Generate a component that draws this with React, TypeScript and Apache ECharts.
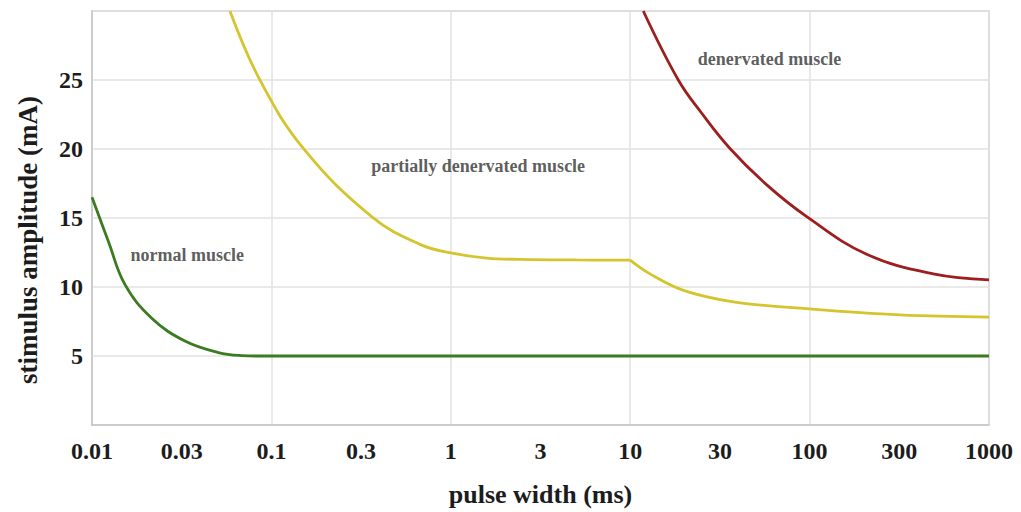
import React, { useEffect, useRef } from "react";
import * as echarts from "echarts";

// X tick labels (pulse width, ms), evenly spaced in half-decade steps
const tickLabels = ["0.01", "0.03", "0.1", "0.3", "1", "3", "10", "30", "100", "300", "1000"];
const yTickLabels = [5, 10, 15, 20, 25];

// normal muscle
const normalPw = [0.01, 0.01233, 0.01528, 0.02153, 0.03297, 0.0506, 0.0682, 0.0845, 0.3, 3, 30, 300, 1000];
const normalAmp = [16.5, 13.32, 10.17, 7.74, 6.08, 5.25, 5.03, 5.0, 5.0, 5.0, 5.0, 5.0, 5.0];

// partially denervated muscle (two parts, kink at 10 ms)
const partialPwA = [0.0587, 0.0863, 0.1507, 0.362, 0.673, 1.019, 1.585, 2.43, 5, 10];
const partialAmpA = [30, 25.0, 20.04, 15.1, 13.09, 12.45, 12.09, 12.0, 11.96, 11.95];
const partialPwB = [10, 12.9, 19.8, 37.6, 100, 319, 1000];
const partialAmpB = [11.95, 10.95, 9.76, 8.93, 8.41, 7.98, 7.82];

// denervated muscle
const denervPw = [11.83, 18.54, 25.05, 35.98, 57.7, 96.4, 208, 489, 1000];
const denervAmp = [30, 25.0, 22.59, 20.04, 17.4, 15.1, 12.37, 10.95, 10.52];

// annotations
const annoText = ["normal muscle", "partially denervated muscle", "denervated muscle"];
const annoPw = [0.034, 1.42, 59.7];
const annoAmp = [12.3, 18.8, 26.55];

const FONT = "Liberation Serif";
const GREEN = "#3b7b22";
const YELLOW = "#d4c52f";
const RED = "#9c1e1e";

const toXY = (pw: number[], amp: number[]) => pw.map((p, i) => [Math.log10(p), amp[i]]);

export default function App() {
  const ref = useRef<HTMLDivElement>(null);
  useEffect(() => {
    if (!ref.current) return;
    const chart = echarts.init(ref.current, undefined, { renderer: "svg" });
    const lineBase = (color: string) => ({
      type: "line" as const,
      smooth: 0.4,
      showSymbol: false,
      symbol: "none",
      xAxisIndex: 0,
      yAxisIndex: 0,
      lineStyle: { color, width: 2.8 },
      itemStyle: { color },
      silent: true,
      z: 3,
    });
    chart.setOption({
      animation: false,
      backgroundColor: "#ffffff",
      grid: {
        left: 92,
        right: 32,
        top: 11,
        bottom: 80,
        show: true,
        borderColor: "#c6c6c6",
        borderWidth: 1.5,
      },
      xAxis: [
        {
          type: "value",
          min: -2,
          max: 3,
          interval: 0.5,
          axisLine: { show: true, onZero: false, lineStyle: { color: "#c6c6c6", width: 1.5 } },
          axisTick: { show: false },
          splitLine: { show: false },
          axisLabel: {
            formatter: (v: number) => tickLabels[Math.round((v + 2) / 0.5)] ?? "",
            fontFamily: FONT,
            fontWeight: "bold",
            fontSize: 24,
            color: "#1c1c1c",
            margin: 14,
          },
          name: "pulse width (ms)",
          nameLocation: "middle",
          nameGap: 56,
          nameTextStyle: { fontFamily: FONT, fontWeight: "bold", fontSize: 26, color: "#1c1c1c" },
        },
        {
          type: "value",
          min: -2,
          max: 3,
          interval: 1,
          position: "bottom",
          axisLine: { show: false, onZero: false },
          axisTick: { show: false },
          axisLabel: { show: false },
          splitLine: { show: true, lineStyle: { color: "#e2e2e2", width: 1.5 } },
        },
      ],
      yAxis: {
        type: "value",
        min: 0,
        max: 30,
        interval: 5,
        axisLine: { show: true, onZero: false, lineStyle: { color: "#c6c6c6", width: 1.5 } },
        axisTick: { show: false },
        splitLine: { show: true, lineStyle: { color: "#e2e2e2", width: 1.5 } },
        axisLabel: {
          formatter: (v: number) => (yTickLabels.includes(v) ? String(v) : ""),
          fontFamily: FONT,
          fontWeight: "bold",
          fontSize: 24,
          color: "#1c1c1c",
          margin: 9,
        },
      },
      graphic: [
        {
          type: "text",
          x: 28,
          y: 240,
          rotation: Math.PI / 2,
          style: {
            text: "stimulus amplitude (mA)",
            font: `bold 27px "${FONT}"`,
            fill: "#1c1c1c",
            textAlign: "center",
            textVerticalAlign: "middle",
          },
        },
      ],
      series: [
        { ...lineBase(GREEN), name: "normal muscle", data: toXY(normalPw, normalAmp) },
        { ...lineBase(YELLOW), name: "partially denervated muscle", data: toXY(partialPwA, partialAmpA) },
        { ...lineBase(YELLOW), name: "partially denervated muscle ", data: toXY(partialPwB, partialAmpB) },
        { ...lineBase(RED), name: "denervated muscle", data: toXY(denervPw, denervAmp) },
        {
          type: "scatter",
          name: "annotations",
          silent: true,
          symbolSize: 0.1,
          itemStyle: { color: "transparent" },
          data: annoText.map((t, i) => ({ name: t, value: [Math.log10(annoPw[i]), annoAmp[i]] })),
          label: {
            show: true,
            position: "inside",
            formatter: (p: any) => p.name,
            fontFamily: FONT,
            fontWeight: "bold",
            fontSize: 18,
            color: "#333333",
          },
          z: 5,
        },
      ],
    });
    return () => chart.dispose();
  }, []);
  return (
    <div
      ref={ref}
      style={{ position: "fixed", left: 0, top: 0, width: 1021, height: 512, background: "#fff" }}
    />
  );
}
